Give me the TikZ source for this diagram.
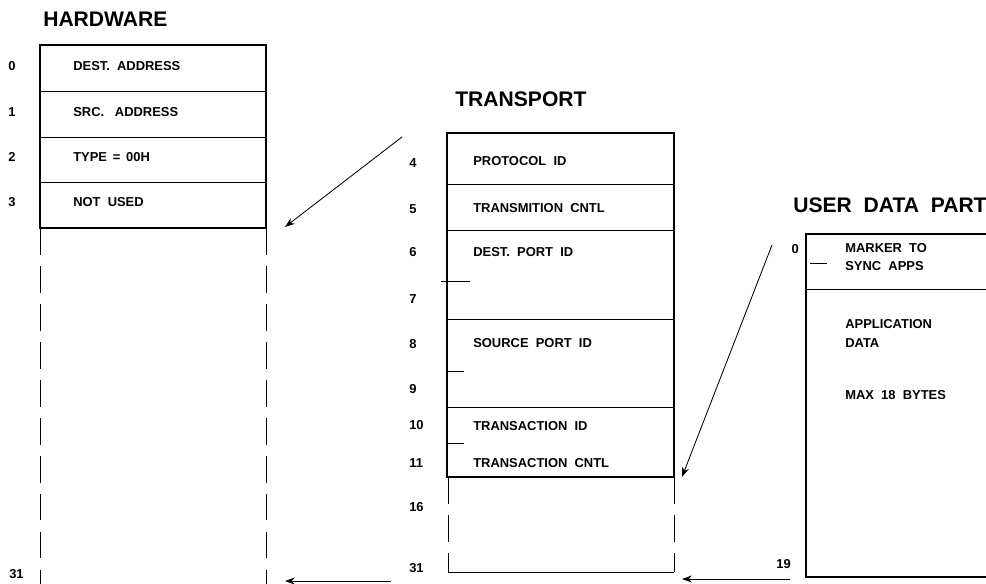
\documentclass[tikz,border=0pt]{standalone}
\usepackage{fontspec}
\setmainfont{Liberation Sans}
\usetikzlibrary{arrows.meta}

\begin{document}
\begin{tikzpicture}[x=0.025cm,y=-0.025cm,
    ttl/.style={anchor=base west,inner sep=0pt,font=\bfseries\fontsize{15}{15}\selectfont},
    fld/.style={anchor=base west,inner sep=0pt,font=\bfseries\fontsize{9.2}{11}\selectfont},
    num/.style={fld},
    frame/.style={line width=1.4pt},
    row/.style={line width=0.7pt},
    dsh/.style={line width=0.7pt,dash pattern=on 19pt off 8pt},
    a/.style={-{Stealth[length=7pt,width=5pt]},line width=0.6pt}]
    \useasboundingbox (0,0) rectangle (986,584);
    \clip (0,0) rectangle (986,584);
    % hardware
    \node[ttl] (hw) at (43,27) {HARDWARE};
    \draw[frame] (40,45) rectangle (266,228);
    \draw[row] (40,91) -- (266,91) (40,137) -- (266,137) (40,182) -- (266,182);
    \node[fld] (da) at (73,71) {DEST.\ \ ADDRESS};
    \node[fld] (sa) at (73,117) {SRC.\ \ \ ADDRESS};
    \node[fld] (ty) at (73,162) {TYPE \,=\, 00H};
    \node[fld] (nu) at (73,207) {NOT\ \ USED};
    \node[num] (h0) at (8,71) {0};
    \node[num] (h1) at (8,117) {1};
    \node[num] (h2) at (8,162) {2};
    \node[num] (h3) at (8,207) {3};
    \node[num] (h31) at (9,578) {31};
    \draw[dsh] (40,228) -- (40,584);
    \draw[dsh] (266,228) -- (266,584);
    % transport
    \node[ttl] (tp) at (455,107) {TRANSPORT};
    \draw[frame] (447,133) rectangle (674,477);
    \draw[row] (447,184) -- (674,184) (447,230) -- (674,230)
      (447,319) -- (674,319) (447,407) -- (674,407);
    \draw[row] (441,281) -- (470,281) (447,371) -- (464,371) (447,443) -- (464,443);
    \node[fld] (pid) at (473,166) {PROTOCOL\ \ ID};
    \node[fld] (tc) at (473,212) {TRANSMITION\ \ CNTL};
    \node[fld] (dp) at (473,257) {DEST.\ \ PORT\ \ ID};
    \node[fld] (sp) at (473,347) {SOURCE\ \ PORT\ \ ID};
    \node[fld] (tid) at (473,430) {TRANSACTION\ \ ID};
    \node[fld] (tcl) at (473,467) {TRANSACTION\ \ CNTL};
    \node[num] (t4) at (409,167) {4};
    \node[num] (t5) at (409,213) {5};
    \node[num] (t6) at (409,257) {6};
    \node[num] (t7) at (409,303) {7};
    \node[num] (t8) at (409,348) {8};
    \node[num] (t9) at (409,393) {9};
    \node[num] (t10) at (409,429) {10};
    \node[num] (t11) at (409,467) {11};
    \node[num] (t16) at (409,511) {16};
    \node[num] (t31) at (409,572) {31};
    \draw[dsh] (448,477) -- (448,572);
    \draw[dsh] (674,477) -- (674,572);
    \draw[row] (448,572) -- (674,572);
    % user data part
    \node[ttl] (ud) at (793,212) {USER\ \ DATA\ \ PART};
    \draw[frame] (1000,234) -| (806,577) -- (1000,577);
    \draw[row] (806,289) -- (1000,289);
    \draw[row] (810,263) -- (827,263);
    \node[fld] (mk) at (845,252) {MARKER\ \ TO};
    \node[fld] (sy) at (845,270) {SYNC\ \ APPS};
    \node[fld] (ap) at (845,328) {APPLICATION};
    \node[fld] (dt) at (845,347) {DATA};
    \node[fld] (mx) at (845,399) {MAX\ \ 18\ \ BYTES};
    \node[num,anchor=base east] (u0) at (799,253) {0};
    \node[num,anchor=base east] (u19) at (791,568) {19};
    % arrows
    \coordinate (hwa) at (402,137);
    \coordinate (hwb) at (285,227);
    \coordinate (hwc) at (391,581);
    \coordinate (hwd) at (285,581);
    \coordinate (tpa) at (772,245);
    \coordinate (tpb) at (682,477);
    \coordinate (tpc) at (790,579);
    \coordinate (tpd) at (682,579);
    \draw[a] (hwa) -- (hwb);
    \draw[a] (hwc) -- (hwd);
    \draw[a] (tpa) -- (tpb);
    \draw[a] (tpc) -- (tpd);
\end{tikzpicture}
\end{document}
